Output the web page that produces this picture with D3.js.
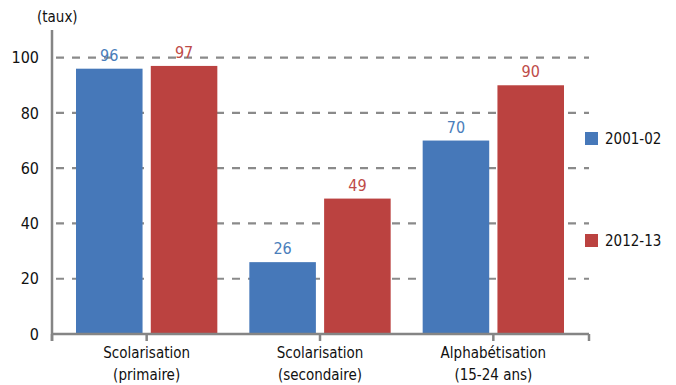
<!DOCTYPE html>
<html>
<head>
<meta charset="utf-8">
<script src="https://cdn.jsdelivr.net/npm/d3@7"></script>
<style>
  body { margin: 0; background: #fff; }
  text { font-family: "Liberation Sans Narrow", "DejaVu Sans Condensed", "Open Sans", sans-serif; }
</style>
</head>
<body>
<div id="chart"></div>
<script>
const categories = [["Scolarisation", "(primaire)"], ["Scolarisation", "(secondaire)"], ["Alphabétisation", "(15-24 ans)"]];
const series = ["2001-02", "2012-13"];
const values2001 = [96, 26, 70];
const values2012 = [97, 49, 90];
const yTicks = [0, 20, 40, 60, 80, 100];

const width = 676, height = 385;
const colors = ["#4678b9", "#bb4240"];
const labelColors = ["#4a7ebb", "#be4b48"];

const svg = d3.select("#chart")
    .append("svg")
    .attr("width", width)
    .attr("height", height);

const axisLeft = 52, axisRight = 589;
const y = d3.scaleLinear().domain([0, 110]).range([334, 30]);

const x = d3.scaleBand()
    .domain(d3.range(categories.length))
    .range([60, 580])
    .paddingInner(0)
    .paddingOuter(0);

const inner = d3.scaleBand()
    .domain(d3.range(series.length))
    .range([16, x.bandwidth() - 16])
    .paddingInner(0.11);

// grid lines
svg.append("g")
    .selectAll("line")
    .data(yTicks.filter(d => d > 0))
    .join("line")
    .attr("x1", axisLeft + 4)
    .attr("x2", axisRight)
    .attr("y1", d => y(d))
    .attr("y2", d => y(d))
    .attr("stroke", "#8a8a8a")
    .attr("stroke-width", 2.2)
    .attr("stroke-dasharray", "8,8");

// y tick labels
svg.append("g")
    .selectAll("text")
    .data(yTicks)
    .join("text")
    .attr("x", 39)
    .attr("y", d => y(d))
    .attr("dy", "0.35em")
    .attr("text-anchor", "end")
    .attr("font-size", 16)
    .attr("fill", "#111")
    .text(d => d);

svg.append("text")
    .attr("x", 37)
    .attr("y", 22)
    .attr("font-size", 15)
    .attr("fill", "#111")
    .text("(taux)");

// bars
const data = [values2001, values2012];
const groups = svg.append("g")
    .selectAll("g")
    .data(categories)
    .join("g")
    .attr("transform", (d, i) => "translate(" + x(i) + ",0)");

groups.selectAll("rect")
    .data((d, i) => data.map((s, j) => ({s: j, v: s[i]})))
    .join("rect")
    .attr("x", d => inner(d.s))
    .attr("width", inner.bandwidth())
    .attr("y", d => y(d.v))
    .attr("height", d => y(0) - y(d.v))
    .attr("fill", d => colors[d.s]);

groups.selectAll("text.val")
    .data((d, i) => data.map((s, j) => ({s: j, v: s[i]})))
    .join("text")
    .attr("class", "val")
    .attr("x", d => inner(d.s) + inner.bandwidth() / 2)
    .attr("y", d => y(d.v) - 8)
    .attr("text-anchor", "middle")
    .attr("font-size", 16)
    .attr("fill", d => labelColors[d.s])
    .text(d => d.v);

// axes
const axisColor = "#858585";
svg.append("line")
    .attr("x1", axisLeft).attr("x2", axisLeft)
    .attr("y1", 30).attr("y2", y(0) + 7)
    .attr("stroke", axisColor).attr("stroke-width", 2.5);

svg.append("line")
    .attr("x1", axisLeft).attr("x2", axisRight)
    .attr("y1", y(0)).attr("y2", y(0))
    .attr("stroke", axisColor).attr("stroke-width", 2.5);

const tickXs = [axisLeft].concat(categories.map((d, i) => x(i) + x.bandwidth() / 2), [axisRight]);
svg.append("g")
    .selectAll("line")
    .data(tickXs)
    .join("line")
    .attr("x1", d => d).attr("x2", d => d)
    .attr("y1", y(0)).attr("y2", y(0) + 7)
    .attr("stroke", axisColor).attr("stroke-width", 2.5);

// category labels
const catLabels = svg.append("g")
    .selectAll("text")
    .data(categories)
    .join("text")
    .attr("x", (d, i) => x(i) + x.bandwidth() / 2)
    .attr("y", 358)
    .attr("text-anchor", "middle")
    .attr("font-size", 15)
    .attr("fill", "#111");

catLabels.selectAll("tspan")
    .data(d => d)
    .join("tspan")
    .attr("x", function() { return this.parentNode.getAttribute("x"); })
    .attr("dy", (d, i) => i === 0 ? 0 : 22)
    .text(d => d);

// legend
const legendY = [139, 241];
const legend = svg.append("g")
    .selectAll("g")
    .data(series)
    .join("g")
    .attr("transform", (d, i) => "translate(585," + legendY[i] + ")");

legend.append("rect")
    .attr("x", 0).attr("y", -7)
    .attr("width", 13).attr("height", 13)
    .attr("fill", (d, i) => colors[i]);

legend.append("text")
    .attr("x", 20)
    .attr("y", 0)
    .attr("dy", "0.35em")
    .attr("font-size", 15)
    .attr("fill", "#111")
    .text(d => d);
</script>
</body>
</html>
